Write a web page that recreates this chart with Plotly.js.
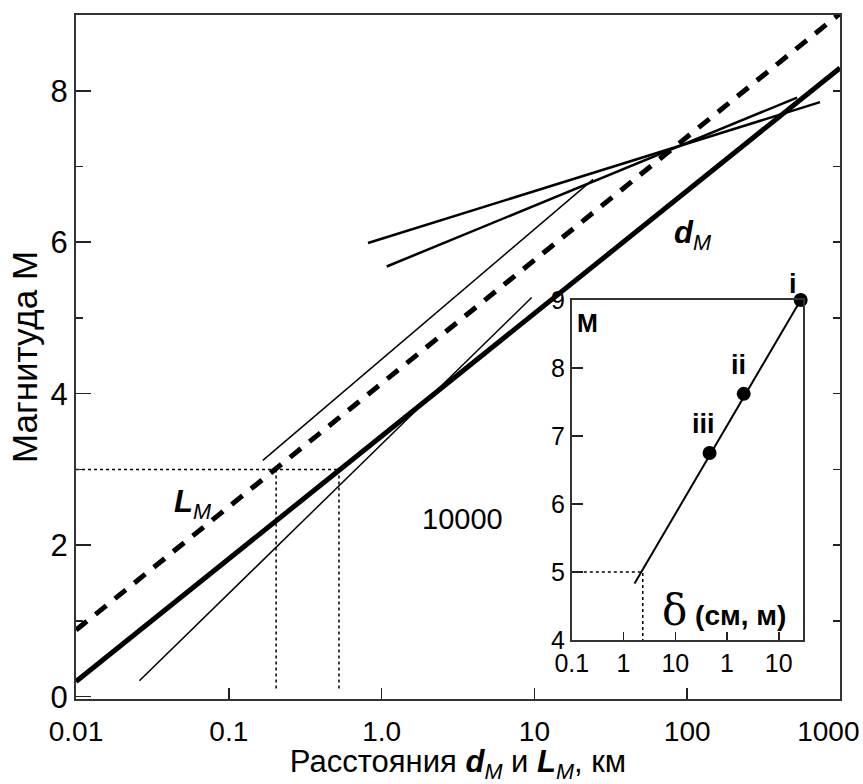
<!DOCTYPE html>
<html>
<head>
<meta charset="utf-8">
<script src="https://cdn.plot.ly/plotly-3.0.1.min.js"></script>
<style>html,body{margin:0;padding:0;background:#fff;}#chart{width:863px;height:784px;}</style>
</head>
<body>
<div id="chart"></div>
<script>
// ---- Main chart data (distance in km, magnitude M) ----
var dMX = [0.01, 1000];
var dMY = [0.2, 8.3];
var LMX = [0.01, 1000];
var LMY = [0.88, 9.02];
var thinUpperX = [0.167, 24.2];
var thinUpperY = [3.12, 6.83];
var thinLowerX = [0.026, 9.6];
var thinLowerY = [0.21, 5.27];
var flatAX = [0.815, 740];
var flatAY = [5.99, 7.85];
var flatBX = [1.08, 524];
var flatBY = [5.68, 7.91];
var guideX = [0.01, 0.526, null, 0.204, 0.204, null, 0.526, 0.526];
var guideY = [3, 3, null, 3, 0.1, null, 3, 0.1];
var mainTickVals = [0.01, 0.1, 1, 10, 100, 1000];
var mainTickText = ['0.01', '0.1', '1.0', '10', '100', '1000'];

// ---- Inset data (displacement δ in cm, magnitude M) ----
var insetPointX = [2650, 210, 46];
var insetPointY = [9.0, 7.62, 6.75];
var insetPointLabels = ['i', 'ii', 'iii'];
var insetLineX = [1.63, 2650];
var insetLineY = [4.83, 9.0];
var insetGuideX = [0.1, 2.35, 2.35];
var insetGuideY = [5, 5, 4];
var insetTickVals = [0.1, 1, 10, 100, 1000];
var insetTickText = ['0.1', '1', '10', '1', '10'];

var FONT = 'Arial, "Liberation Sans", sans-serif';
var NBSP = '\u00a0';

// keep the last main tick label inside the page (padding on its right side)
var mainTickShown = mainTickText.map(function (t, i) {
  return i === mainTickText.length - 1 ? t + NBSP + NBSP + NBSP : t;
});

var traces = [
  {x: thinUpperX, y: thinUpperY, mode: 'lines', line: {color: '#000', width: 1.5}, xaxis: 'x', yaxis: 'y'},
  {x: thinLowerX, y: thinLowerY, mode: 'lines', line: {color: '#000', width: 1.5}, xaxis: 'x', yaxis: 'y'},
  {x: flatAX, y: flatAY, mode: 'lines', line: {color: '#000', width: 2.5}, xaxis: 'x', yaxis: 'y'},
  {x: flatBX, y: flatBY, mode: 'lines', line: {color: '#000', width: 2.5}, xaxis: 'x', yaxis: 'y'},
  {x: guideX, y: guideY, mode: 'lines', line: {color: '#000', width: 1.5, dash: 'dot'}, xaxis: 'x', yaxis: 'y'},
  {x: dMX, y: dMY, mode: 'lines', line: {color: '#000', width: 5}, xaxis: 'x', yaxis: 'y'},
  {x: LMX, y: LMY, mode: 'lines', line: {color: '#000', width: 5, dash: '14px,11px'}, xaxis: 'x', yaxis: 'y'},
  {x: [], y: [], mode: 'lines', xaxis: 'x', yaxis: 'y3', hoverinfo: 'skip'},
  {x: insetGuideX, y: insetGuideY, mode: 'lines', line: {color: '#000', width: 1.5, dash: 'dot'}, xaxis: 'x2', yaxis: 'y2'},
  {x: insetLineX, y: insetLineY, mode: 'lines', line: {color: '#000', width: 2}, xaxis: 'x2', yaxis: 'y2'},
  {x: insetPointX, y: insetPointY, mode: 'markers', marker: {color: '#000', size: 14}, cliponaxis: false, xaxis: 'x2', yaxis: 'y2'}
];

var annotations = [
  {xref: 'x', yref: 'y', x: Math.log10(109), y: 6.09, text: '<b><i>d</i></b><sub><i>M</i></sub>', showarrow: false, font: {family: FONT, size: 31, color: '#000'}},
  {xref: 'x', yref: 'y', x: Math.log10(0.0583), y: 2.55, text: '<b><i>L</i></b><sub><i>M</i></sub>', showarrow: false, font: {family: FONT, size: 31, color: '#000'}},
  {xref: 'x', yref: 'y', x: Math.log10(3.36), y: 2.35, text: '10000', showarrow: false, font: {family: FONT, size: 29, color: '#000'}},
  {xref: 'x2', yref: 'y2', x: -0.69, y: 8.66, text: '<b>M</b>', showarrow: false, font: {family: FONT, size: 25, color: '#000'}},
  {xref: 'x2', yref: 'y2', x: 1.94, y: 4.44, text: '<span style="font-family:\'DejaVu Serif\',\'Liberation Serif\',serif;font-size:42px">δ</span><b> (см, м)</b>', showarrow: false, font: {family: FONT, size: 28, color: '#000'}},
  {xref: 'x2', yref: 'y2', x: Math.log10(insetPointX[0]) - 0.15, y: insetPointY[0], yshift: 16, text: '<b>' + insetPointLabels[0] + '</b>', showarrow: false, font: {family: FONT, size: 27, color: '#000'}},
  {xref: 'x2', yref: 'y2', x: Math.log10(insetPointX[1]) - 0.1, y: insetPointY[1], yshift: 29, text: '<b>' + insetPointLabels[1] + '</b>', showarrow: false, font: {family: FONT, size: 27, color: '#000'}},
  {xref: 'x2', yref: 'y2', x: Math.log10(insetPointX[2]) - 0.12, y: insetPointY[2], yshift: 29, text: '<b>' + insetPointLabels[2] + '</b>', showarrow: false, font: {family: FONT, size: 27, color: '#000'}}
];

var layout = {
  width: 863, height: 784,
  margin: {l: 76, r: 23, t: 15, b: 85},
  paper_bgcolor: '#fff', plot_bgcolor: '#fff',
  showlegend: false,
  font: {family: FONT, color: '#000'},
  xaxis: {
    type: 'log', range: [-2, 3], domain: [0, 1], anchor: 'y',
    tickvals: mainTickVals, ticktext: mainTickShown,
    ticks: 'inside', ticklen: 11, tickwidth: 1.5, tickcolor: '#222',
    showline: true, linecolor: '#333', linewidth: 2, mirror: true,
    showgrid: false, zeroline: false,
    tickfont: {family: FONT, size: 28, color: '#000'},
    ticklabelstandoff: 6, ticklabeloverflow: 'allow',
    title: {text: 'Расстояния <b><i>d</i></b><sub><i>M</i></sub> и <b><i>L</i></b><sub><i>M</i></sub>, км', font: {family: FONT, size: 31, color: '#000'}, standoff: 3}
  },
  yaxis: {
    range: [-0.03, 9.0], domain: [0, 1], anchor: 'x',
    tickvals: [0, 2, 4, 6, 8],
    ticks: 'inside', ticklen: 15, tickwidth: 1.5, tickcolor: '#222',
    minor: {tickvals: [1, 3, 5, 7], ticks: 'inside', ticklen: 7, tickwidth: 1.5, tickcolor: '#222', showgrid: false},
    showline: true, linecolor: '#333', linewidth: 2, mirror: true,
    showgrid: false, zeroline: false,
    tickfont: {family: FONT, size: 31, color: '#000'},
    title: {text: 'Магнитуда М', font: {family: FONT, size: 35, color: '#000'}, standoff: 2}
  },
  yaxis3: {
    range: [-0.03, 9.0], overlaying: 'y', side: 'right', anchor: 'x',
    tickvals: [1, 2, 3, 4, 5, 6, 7, 8],
    ticks: 'inside', ticklen: 7, tickwidth: 1.5, tickcolor: '#222',
    showticklabels: false, showline: false, showgrid: false, zeroline: false
  },
  xaxis2: {
    type: 'log', range: [-1, 3.46], domain: [0.649, 0.951], anchor: 'y2',
    tickvals: insetTickVals, ticktext: insetTickText,
    ticks: 'inside', ticklen: 8, tickwidth: 1.5, tickcolor: '#222',
    showline: true, linecolor: '#333', linewidth: 2, mirror: true,
    showgrid: false, zeroline: false,
    tickfont: {family: FONT, size: 25, color: '#000'}
  },
  yaxis2: {
    range: [4, 9], domain: [0.0863, 0.5833], anchor: 'x2',
    dtick: 1,
    ticks: 'inside', ticklen: 11, tickwidth: 1.5, tickcolor: '#222',
    showline: true, linecolor: '#333', linewidth: 2, mirror: true,
    showgrid: false, zeroline: false,
    tickfont: {family: FONT, size: 25, color: '#000'}
  },
  annotations: annotations
};

Plotly.newPlot('chart', traces, layout, {displayModeBar: false, staticPlot: true});
</script>
</body>
</html>
